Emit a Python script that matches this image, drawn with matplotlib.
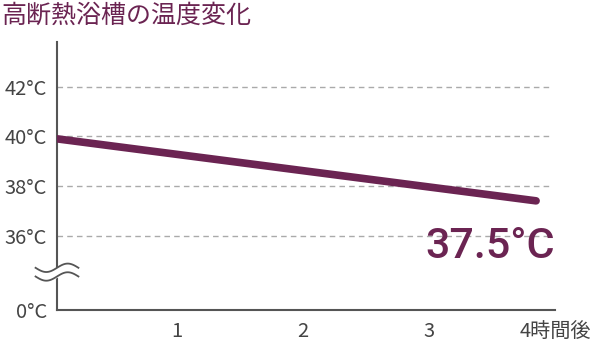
import numpy as np
import matplotlib
matplotlib.use('Agg')
import matplotlib.pyplot as plt

plt.rcParams['font.family'] = ['Noto Sans CJK JP', 'DejaVu Sans']

# data
hours = [0.05, 3.85]
temps = [39.9, 37.4]
ytick_vals = [33, 36, 38, 40, 42]          # 33 = position of the 0°C tick (broken axis)
ytick_labels = ['0°C', '36°C', '38°C', '40°C', '42°C']
xtick_vals = [1, 2, 3, 4]
xtick_labels = ['1', '2', '3', '4時間後']
grid_vals = [36, 38, 40, 42]
title = '高断熱浴槽の温度変化'
end_label = '37.5°C'

purple = '#6b2452'
axis_col = '#555555'

fig = plt.figure(figsize=(6, 3.6), dpi=100)
ax = fig.add_axes([0.095, 0.139, 0.83, 0.744])

for g in grid_vals:
    ax.plot([0.05, 3.96], [g, g], color='#aaaaaa', lw=1, ls=(0, (4, 3)), zorder=1)

ax.plot(hours, temps, color=purple, lw=5.5, solid_capstyle='round', zorder=3)

ax.set_xlim(0.05, 4.0)
ax.set_ylim(33, 43.8)
ax.set_yticks(ytick_vals)
ax.set_yticklabels(ytick_labels)
ax.set_xticks(xtick_vals)
ax.set_xticklabels(xtick_labels)
ax.tick_params(length=0, labelsize=14.5, colors='#444444')
ax.tick_params(axis='y', pad=7)
ax.tick_params(axis='x', pad=8)

for s in ['top', 'right']:
    ax.spines[s].set_visible(False)
for s in ['left', 'bottom']:
    ax.spines[s].set_color(axis_col)
    ax.spines[s].set_linewidth(1.5)

# axis break mark
bx = np.linspace(-0.17, 0.17, 60)
wave = 0.17 * np.sin(bx / 0.17 * np.pi)
b1 = 34.7 + wave
b2 = 34.35 + wave
ax.fill_between(bx + 0.05, b2, b1, color='white', zorder=5, clip_on=False)
ax.plot(bx + 0.05, b1, color=axis_col, lw=1.3, zorder=6, clip_on=False)
ax.plot(bx + 0.05, b2, color=axis_col, lw=1.3, zorder=6, clip_on=False)

ax.text(4.0, 35.1, end_label, color=purple, fontsize=31, fontweight='medium',
        family=['Roboto', 'DejaVu Sans'], ha='right', va='baseline')

fig.text(0.003, 0.955, title, color=purple, fontsize=18, ha='left', va='center')

fig.savefig('out.png', dpi=100)
